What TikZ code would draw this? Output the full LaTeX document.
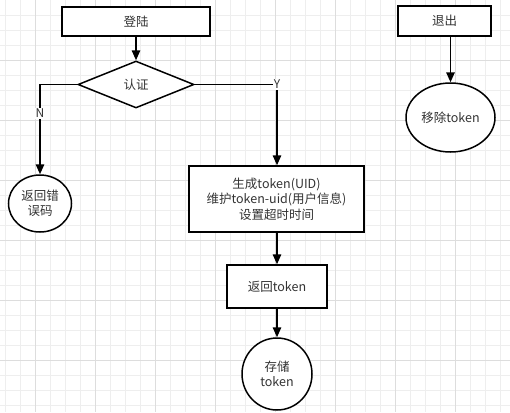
\documentclass[tikz,border=0pt]{standalone}
\usepackage{fontspec}
\setmainfont{Noto Sans CJK SC}
\usetikzlibrary{arrows.meta,shapes.geometric}
\definecolor{GridMinor}{HTML}{EEEEEE}
\definecolor{GridMajor}{HTML}{DDDDDD}
\definecolor{InkText}{HTML}{333333}

\begin{document}
\begin{tikzpicture}[
    x=1pt,y=-1pt,
    stepbox/.style={draw,line width=1.5pt,fill=white,align=center,inner sep=1pt,
                    text=InkText,font=\fontsize{12.5}{15.5}\selectfont},
    decision/.style={stepbox,diamond,aspect=2.4},
    endpoint/.style={stepbox,ellipse},
    flow/.style={draw,line width=1.5pt,-{Triangle[length=10pt,width=8.5pt]}},
    branch/.style={fill=white,inner sep=1pt,text=InkText,font=\fontsize{12}{14}\selectfont},
  ]
  % background grid
  \useasboundingbox (0,0) rectangle (510,412);
  \fill[white] (0,0) rectangle (510,412);
  \foreach \gx in {5,20,...,505} \draw[GridMinor,line width=0.6pt] (\gx,0) -- (\gx,412);
  \foreach \gy in {15,30,...,405} \draw[GridMinor,line width=0.6pt] (0,\gy) -- (510,\gy);
  \foreach \gx in {35,95,...,505} \draw[GridMajor,line width=0.8pt] (\gx,0) -- (\gx,412);
  \foreach \gy in {60,120,...,400} \draw[GridMajor,line width=0.8pt] (0,\gy) -- (510,\gy);

  % login branch
  \node[stepbox,minimum width=148pt,minimum height=29pt] (login) at (136,21.5) {登陆};
  \node[decision,minimum width=116pt,minimum height=47pt] (auth) at (136,84.5) {认证};
  \node[endpoint,minimum width=63pt,minimum height=57pt] (fail) at (40,203.5) {返回错\\误码};
  \node[stepbox,minimum width=175pt,minimum height=66pt] (issue) at (276.5,199)
       {生成token(UID)\\维护token-uid(用户信息)\\设置超时时间};
  \node[stepbox,minimum width=100pt,minimum height=43pt] (reply) at (277,286.5) {返回token};
  \node[endpoint,minimum width=70pt,minimum height=72pt] (store) at (277,374) {存储\\token};

  % logout branch
  \node[stepbox,minimum width=93pt,minimum height=30pt] (logout) at (444.5,21) {退出};
  \node[endpoint,minimum width=89pt,minimum height=69pt] (remove) at (450.5,117.5) {移除token};

  \draw[flow] (login) -- (auth);
  \draw[flow] (auth.west) -| node[branch,pos=0.66] {N} (fail.north);
  \draw[flow] (auth.east) -| node[branch,pos=0.5] {Y} (issue.north -| reply.north);
  \draw[flow] (issue.south -| reply.north) -- (reply);
  \draw[flow] (reply) -- (store);
  \draw[flow] (logout.south -| remove.north) -- (remove);
\end{tikzpicture}
\end{document}
